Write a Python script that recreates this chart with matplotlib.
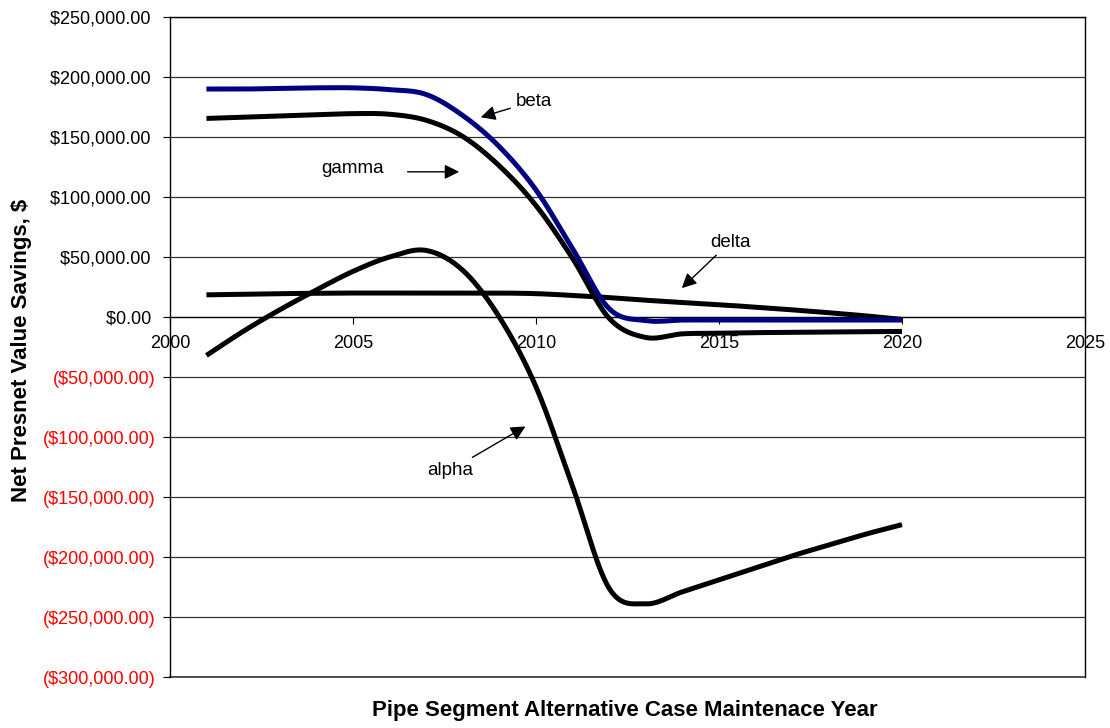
import numpy as np
import matplotlib.pyplot as plt
from matplotlib.ticker import FuncFormatter

# yearly values (thousands of $)
years = list(range(2001, 2021))
alpha = [-32, -12, 6, 22.5, 38, 50, 55.5, 39, 0, -58, -141, -226, -239, -229,
         -219, -209, -199, -190, -181, -173]
beta = [190, 190, 190.5, 191, 191, 189.5, 185.5, 168, 142, 106, 57, 7, -3, -2.5,
        -2.5, -2.5, -2.5, -2.5, -2.5, -2.5]
gamma = [165.5, 166.5, 167.5, 168.5, 169.5, 169, 164, 150.5, 126, 93, 49, -1, -17, -14,
         -13.5, -13, -12.8, -12.5, -12.2, -12]
delta = [18.5, 19, 19.5, 19.8, 20, 20, 20, 20, 20, 19.5, 18, 16.2, 14, 12.2,
         10.3, 8.2, 6, 3.6, 1, -2]

y_ticks = list(range(-300000, 250001, 50000))
x_ticks = [2000, 2005, 2010, 2015, 2020, 2025]


def smooth(xs, ys, n=30):
    # Catmull-Rom style smoothing, similar to a spreadsheet "smoothed line"
    xs = np.asarray(xs, float)
    ys = np.asarray(ys, float)
    px = np.concatenate([[2 * xs[0] - xs[1]], xs, [2 * xs[-1] - xs[-2]]])
    py = np.concatenate([[2 * ys[0] - ys[1]], ys, [2 * ys[-1] - ys[-2]]])
    out_x, out_y = [], []
    t = np.linspace(0, 1, n, endpoint=False)
    for i in range(1, len(px) - 2):
        for arr, out in ((px, out_x), (py, out_y)):
            p0, p1, p2, p3 = arr[i - 1], arr[i], arr[i + 1], arr[i + 2]
            m1 = (p2 - p0) / 2
            m2 = (p3 - p1) / 2
            h00 = 2 * t**3 - 3 * t**2 + 1
            h10 = t**3 - 2 * t**2 + t
            h01 = -2 * t**3 + 3 * t**2
            h11 = t**3 - t**2
            out.extend(h00 * p1 + h10 * m1 + h01 * p2 + h11 * m2)
    out_x.append(xs[-1])
    out_y.append(ys[-1])
    return np.array(out_x), np.array(out_y)


def money(v, pos):
    # accounting style: negatives in brackets, positives padded for the ")"
    if v < 0:
        return '(${:,.2f})'.format(-v)
    return '${:,.2f} '.format(v)


plt.rcParams['font.family'] = ['Liberation Sans', 'DejaVu Sans']

fig = plt.figure(figsize=(11.1, 7.28), dpi=100)
ax = fig.add_axes([0.153, 0.070, 0.8245, 0.9066])

for vals, col in ((alpha, 'black'), (delta, 'black'), (gamma, 'black'), (beta, '#000080')):
    sx, sy = smooth(years, np.array(vals) * 1000)
    ax.plot(sx, sy, color=col, lw=3.6, solid_capstyle='butt', zorder=3)

ax.set_xlim(2000, 2025)
ax.set_ylim(-300000, 250000)
ax.set_yticks(y_ticks)
ax.set_xticks(x_ticks)
ax.yaxis.set_major_formatter(FuncFormatter(money))
ax.grid(axis='y', color='#333333', lw=0.9, zorder=1)
ax.axhline(-300000, color='#333333', lw=1.2, clip_on=False, zorder=1)

ax.spines['bottom'].set_position(('data', 0))
ax.spines['bottom'].set_linewidth(0.9)
for s in ('left', 'right', 'top'):
    ax.spines[s].set_linewidth(1.0)
ax.tick_params(axis='y', direction='out', length=5, labelsize=13, pad=5)
ax.tick_params(axis='x', direction='out', length=5, labelsize=13, pad=8)
for lab, v in zip(ax.get_yticklabels(), y_ticks):
    lab.set_color('red' if v < 0 else 'black')

ax.set_ylabel('Net Presnet Value Savings, $', fontsize=16, fontweight='bold')
ax.yaxis.set_label_coords(-0.151, 0.495)
fig.text(0.563, 0.016, 'Pipe Segment Alternative Case Maintenace Year',
         ha='center', fontsize=16, fontweight='bold')

arrow = dict(arrowstyle='-|>', color='black', lw=1.0, mutation_scale=22)
ax.annotate('beta', xy=(2008.42, 165800), xytext=(2009.45, 180000),
            fontsize=13.5, ha='left', va='center', arrowprops=arrow)
ax.annotate('', xy=(2007.98, 121000), xytext=(2006.42, 121000), arrowprops=arrow)
ax.text(2005.0, 124000, 'gamma', fontsize=13.5, ha='center', va='center')
ax.annotate('delta', xy=(2013.93, 22500), xytext=(2014.75, 62500),
            fontsize=13.5, ha='left', va='center', arrowprops=arrow)
ax.annotate('alpha', xy=(2009.78, -90000), xytext=(2008.3, -127500),
            fontsize=13.5, ha='right', va='center', arrowprops=arrow)

fig.savefig('out.png', dpi=100)
